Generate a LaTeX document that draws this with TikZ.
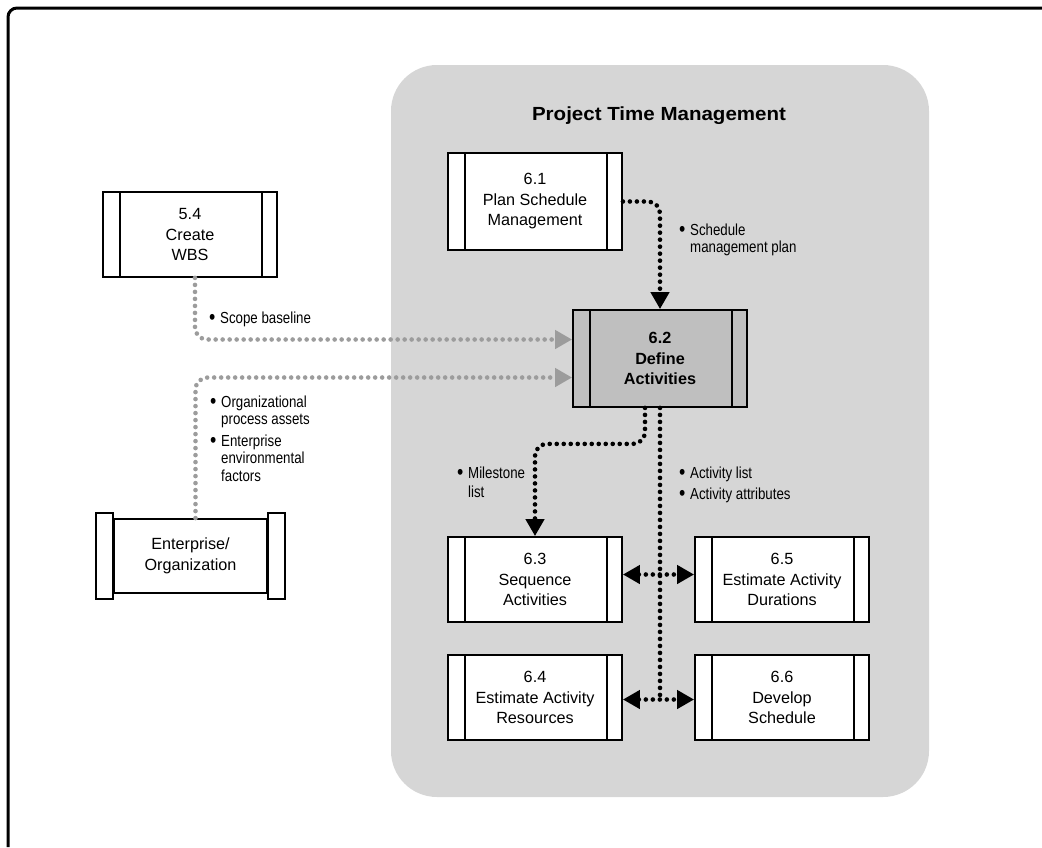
\documentclass[tikz,border=0pt]{standalone}
\usepackage{fontspec}
\setmainfont{Liberation Sans}
\newfontfamily\labelfont[FakeStretch=0.83]{Liberation Sans}
\newfontfamily\titlefont[FakeStretch=1.08]{Liberation Sans Bold}
\usetikzlibrary{arrows.meta}
\definecolor{panelgray}{HTML}{D6D6D6}
\definecolor{activegray}{HTML}{BFBFBF}
\definecolor{inputgray}{HTML}{9C9C9C}
\newcommand{\bul}{\makebox[11pt][l]{\raisebox{-1.2pt}{\scalebox{1.35}{\textbullet}}}}
\newcommand{\lab}[1]{\begin{tabular}[t]{@{}l@{}l@{}}#1\end{tabular}}
\tikzset{
  proc/.style={draw, fill=white, line width=1.8, minimum width=174, minimum height=85,
    inner sep=0pt, align=center, font=\fontsize{16.2}{20.5}\selectfont,
    path picture={\draw[line width=1.6]
      ([xshift=17pt]path picture bounding box.north west) -- ([xshift=17pt]path picture bounding box.south west)
      ([xshift=-15pt]path picture bounding box.north east) -- ([xshift=-15pt]path picture bounding box.south east);}},
  lbl/.style={anchor=base west, inner sep=0pt, font=\labelfont\fontsize{16}{17.5}\selectfont},
  flow/.style={line width=4.6, line cap=round, dash pattern=on 0pt off 7pt, rounded corners=12},
  infl/.style={flow, draw=inputgray},
}

\begin{document}
\begin{tikzpicture}[x=1pt, y=-1pt, >={Triangle[length=17pt,width=18pt]}]
  \useasboundingbox (0,0) rectangle (1042,847);
  \draw[line width=3, rounded corners=9] (1042,8) -- (8,8) -- (8,847);
  \fill[panelgray, rounded corners=46] (391,65) rectangle (929,797);
  \node[font=\titlefont\fontsize{19}{22}\selectfont, anchor=base, inner sep=0pt] (ttl) at (659,120) {Project Time Management};

  \node[proc] (p54) at (190,234.5) {5.4\\Create\\WBS};
  \node[proc, minimum height=97] (p61) at (535,201.5) {6.1\\Plan Schedule\\Management};
  \node[proc, minimum height=97, fill=activegray, font=\bfseries\fontsize{16.2}{20.5}\selectfont] (p62) at (660,358.5) {6.2\\Define\\Activities};
  \node[proc] (p63) at (535,579.5) {6.3\\Sequence\\Activities};
  \node[proc] (p64) at (535,697.5) {6.4\\Estimate Activity\\Resources};
  \node[proc] (p65) at (782,579.5) {6.5\\Estimate Activity\\Durations};
  \node[proc] (p66) at (782,697.5) {6.6\\Develop\\Schedule};

  \node[draw, fill=white, line width=1.8, minimum width=153, minimum height=74, inner sep=0pt,
    align=center, font=\fontsize{16.2}{20.5}\selectfont] (ent) at (190.5,556) {Enterprise/\\Organization};
  \draw[line width=1.8, fill=white] ([shift={(-17,-5)}]ent.north west) rectangle ([shift={(0,5)}]ent.south west);
  \draw[line width=1.8, fill=white] ([shift={(0,-5)}]ent.north east) rectangle ([shift={(17,5)}]ent.south east);

  \draw[flow,->] (p61.east) -| (p62.north);
  \draw[flow,->] ([shift={(-15,0)}]p62.south) -- ++(0,36) -| (p63.north);
  \coordinate (j63) at ([shift={(0,-5)}]p63.east);
  \coordinate (j64) at ([shift={(0,2)}]p64.east);
  \draw[flow] (p62.south) -- (p62.south |- j64);
  \draw[flow,<->] (j63) -- (j63 -| p65.west);
  \draw[flow,<->] (j64) -- (j64 -| p66.west);
  \draw[infl,->] ([shift={(5,0)}]p54.south) |- ([shift={(0,-19)}]p62.west);
  \draw[infl,->] ([shift={(5,0)}]ent.north) |- ([shift={(0,19)}]p62.west);

  \node[lbl] (l61) at (679,235) {\lab{\bul & Schedule\\ & management plan}};
  \node[lbl] (l54) at (209,323) {\lab{\bul & Scope baseline}};
  \node[lbl] (lent) at (210,407) {\lab{\bul & Organizational\\ & process assets\\[4pt] \bul & Enterprise\\ & environmental\\ & factors}};
  \node[lbl] (l63) at (457,478) {\lab{\bul & Milestone\\[2pt] & list}};
  \node[lbl] (l62) at (679,478) {\lab{\bul & Activity list\\[4pt] \bul & Activity attributes}};
\end{tikzpicture}
\end{document}
